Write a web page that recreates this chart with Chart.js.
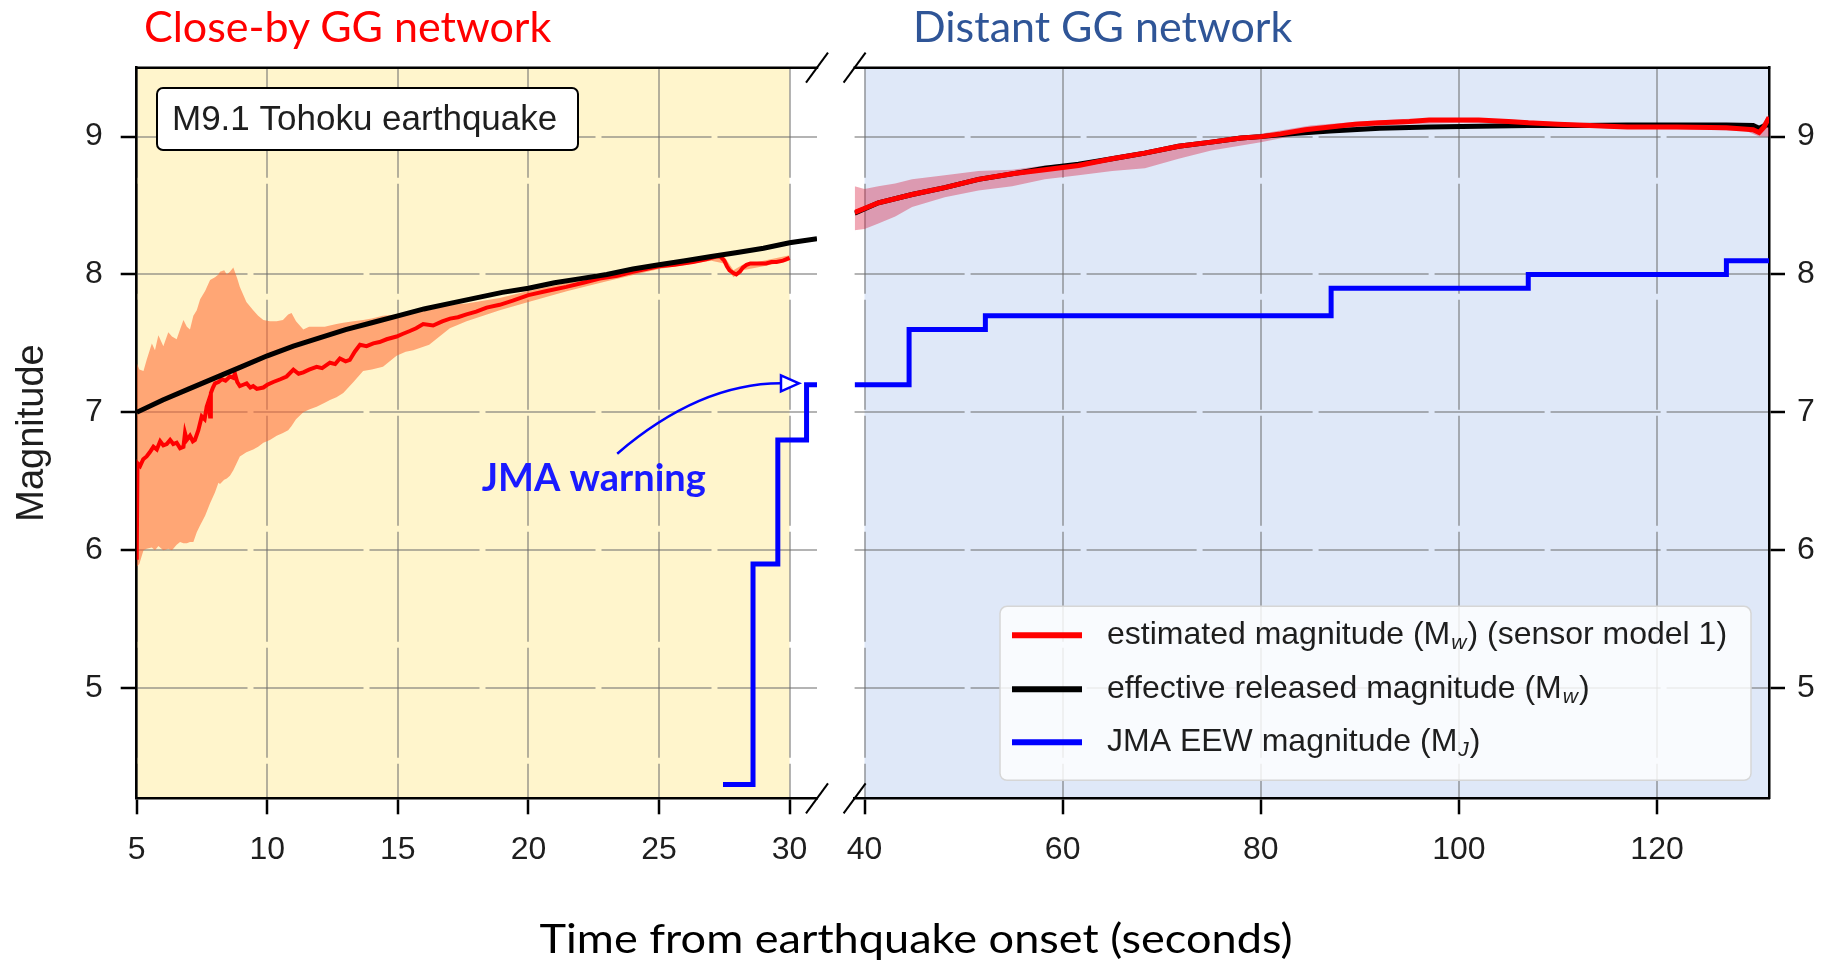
<!DOCTYPE html>
<html>
<head>
<meta charset="utf-8">
<script src="https://cdn.jsdelivr.net/npm/chart.js@4.4.1/dist/chart.umd.min.js"></script>
<style>
  html, body { margin: 0; padding: 0; background: #fff; }
  #page { position: relative; width: 1834px; height: 961px; overflow: hidden; background: #fff; }
  canvas { position: absolute; top: 0; }
  #cvClose { left: 0; }
  #cvFar { left: 820px; }
  .head { position: absolute; font-family: Lato, sans-serif; line-height: 1; white-space: nowrap; }
</style>
</head>
<body>
<div id="page">
  <canvas id="cvClose" width="850" height="961"></canvas>
  <canvas id="cvFar" width="1014" height="961"></canvas>
  <div class="head" style="left:144px; top:4px; font-size:43px; color:#ff0000;">Close-by GG network</div>
  <div class="head" style="left:913px; top:4px; font-size:43px; color:#2f5597;">Distant GG network</div>
  <div class="head" style="left:416px; width:1000px; text-align:center; top:917px; font-size:41px; color:#000; transform:scaleX(1.1); transform-origin:500px 0;">Time from earthquake onset (seconds)</div>
</div>
<script>
// ---- axes ----
const magTicks = [5, 6, 7, 8, 9];
const closeTicks = [5, 10, 15, 20, 25, 30];
const farTicks = [40, 60, 80, 100, 120];
const magRange = [4.2, 9.5];
const closeRange = [5, 31.05];
const farRange = [39, 131.3];

// ---- close-by network (seconds 5-31) ----
const closeEstT = [5.0,5.03,5.13,5.25,5.38,5.5,5.64,5.77,5.9,6.02,
  6.15,6.28,6.4,6.53,6.66,6.79,6.85,6.92,7.04,7.15,
  7.23,7.36,7.49,7.6,7.68,7.75,7.81,7.84,7.92,8.0,
  8.13,8.26,8.4,8.57,8.7,8.76,8.85,8.95,9.08,9.21,
  9.35,9.46,9.6,9.85,10.0,10.23,10.5,10.74,11.0,11.2,
  11.38,11.6,11.89,12.1,12.4,12.6,12.78,13.0,13.16,13.35,
  13.55,13.8,14.06,14.3,14.57,14.95,15.2,15.46,15.7,15.97,
  16.35,16.7,17.0,17.3,17.63,18.0,18.4,18.9,19.4,20.0,
  20.7,21.45,22.1,22.73,23.4,24.0,24.5,25.0,25.6,26.3,
  26.8,27.19,27.35,27.5,27.6,27.7,27.85,27.96,28.1,28.21,
  28.35,28.5,28.8,29.1,29.3,29.5,29.75,30.0];
const closeEstM = [5.93,6.63,6.61,6.66,6.68,6.71,6.75,6.73,6.79,6.76,
  6.77,6.80,6.77,6.78,6.74,6.75,6.85,6.80,6.83,6.79,
  6.80,6.87,6.97,6.95,7.04,7.08,6.97,7.14,7.18,7.21,
  7.22,7.24,7.23,7.26,7.25,7.28,7.22,7.19,7.20,7.21,
  7.18,7.19,7.17,7.18,7.20,7.22,7.24,7.26,7.31,7.28,
  7.29,7.31,7.33,7.32,7.36,7.35,7.39,7.37,7.38,7.44,
  7.49,7.48,7.50,7.51,7.53,7.55,7.57,7.59,7.61,7.64,
  7.63,7.66,7.68,7.69,7.71,7.73,7.76,7.78,7.81,7.85,
  7.88,7.91,7.94,7.97,7.99,8.02,8.04,8.06,8.07,8.09,
  8.11,8.13,8.13,8.10,8.06,8.03,8.01,8.00,8.02,8.05,
  8.07,8.08,8.08,8.08,8.09,8.09,8.10,8.12];

const closeBandT = [5.0,5.1,5.26,5.38,5.58,5.7,5.83,6.02,6.21,6.35,
  6.53,6.66,6.79,6.92,7.04,7.17,7.3,7.43,7.62,7.81,
  8.0,8.13,8.19,8.35,8.45,8.57,8.7,8.85,8.95,9.2,
  9.46,9.65,9.85,10.1,10.36,10.6,10.8,10.93,11.1,11.38,
  11.6,11.89,12.2,12.4,12.65,12.91,13.3,13.67,14.0,14.43,
  14.95,15.3,15.59,16.2,16.99,17.63,18.9,20.0,21.5,23.0,
  25.0,27.0,27.5,27.85,28.2,29.0,30.0];
const closeBandHi = [7.36,7.31,7.30,7.38,7.50,7.45,7.56,7.48,7.58,7.55,
  7.53,7.60,7.67,7.62,7.60,7.70,7.74,7.82,7.88,7.96,
  7.98,8.00,8.02,8.03,8.00,8.02,8.05,7.97,7.91,7.80,
  7.74,7.70,7.67,7.66,7.66,7.67,7.71,7.72,7.66,7.60,
  7.62,7.62,7.62,7.63,7.64,7.65,7.66,7.67,7.68,7.70,
  7.71,7.72,7.73,7.74,7.78,7.79,7.83,7.88,7.94,7.99,
  8.08,8.14,8.13,8.03,8.07,8.10,8.14];
const closeBandLo = [5.88,5.90,6.00,6.01,6.02,6.00,6.03,6.00,6.01,6.00,
  6.04,6.06,6.05,6.05,6.06,6.06,6.13,6.18,6.25,6.34,
  6.42,6.49,6.48,6.51,6.52,6.54,6.58,6.64,6.68,6.71,
  6.73,6.75,6.78,6.80,6.83,6.85,6.87,6.90,6.95,7.00,
  7.02,7.04,7.07,7.09,7.11,7.14,7.22,7.30,7.31,7.33,
  7.41,7.44,7.45,7.49,7.61,7.66,7.74,7.80,7.88,7.95,
  8.04,8.10,8.08,7.98,8.03,8.06,8.10];

const closeRelT = [5,6,7,8,9,10,11,12,13,14,15,16,17,18,19,20,21,22,23,24,25,26,27,28,29,30,31.05];
const closeRelM = [7.0,7.09,7.17,7.25,7.33,7.41,7.48,7.54,7.60,7.65,7.70,7.75,7.79,7.83,7.87,7.90,7.94,7.97,8.00,8.04,8.07,8.10,8.13,8.16,8.19,8.23,8.26];

const closeJmaT = [27.45, 28.6, 29.55, 30.65, 31.05];
const closeJmaM = [4.3, 5.9, 6.8, 7.2, 7.2];

// ---- distant network (seconds 39-131) ----
const farEstT = [39,41.4,44.8,48.1,51.5,54.9,58.2,61.6,65,68.3,
  71.7,75,78,80,82,84.5,87,89.5,92,95,
  97,100,102,105,107,110,112,115,117,122,
  127,129.7,130.3,130.8,131.3];
const farEstM = [8.45,8.52,8.58,8.63,8.69,8.73,8.76,8.79,8.84,8.88,
  8.93,8.96,8.99,9.0,9.02,9.05,9.07,9.09,9.10,9.11,
  9.12,9.12,9.12,9.11,9.10,9.09,9.085,9.075,9.07,9.07,
  9.065,9.05,9.03,9.07,9.14];

const farBandT = [39,40,41.4,43.1,44.8,48.1,51.5,54.9,58.2,61.6,
  65,68.3,71.7,75,80,85,90,95,100,105,
  110,115,120,125,129,130.3,131.3];
const farBandHi = [8.64,8.62,8.64,8.66,8.69,8.72,8.75,8.76,8.79,8.81,
  8.86,8.90,8.94,8.97,9.02,9.08,9.11,9.13,9.13,9.125,
  9.105,9.09,9.085,9.085,9.08,9.06,9.16];
const farBandLo = [8.32,8.33,8.37,8.42,8.49,8.56,8.61,8.64,8.69,8.72,
  8.75,8.77,8.84,8.90,8.96,9.03,9.07,9.09,9.10,9.095,
  9.075,9.06,9.055,9.05,9.04,9.0,9.0];

const farRelT = [39,41.4,44.8,48.1,51.5,54.9,58.2,61.6,65,68.3,
  71.7,75,78,80,83,87,92,97,102,107,
  112,117,122,127,129.7,130.3,131.0,131.3];
const farRelM = [8.445,8.52,8.58,8.63,8.69,8.73,8.77,8.80,8.84,8.88,
  8.93,8.96,8.99,9.0,9.02,9.04,9.06,9.07,9.075,9.08,
  9.08,9.085,9.085,9.085,9.08,9.06,9.085,9.085];

const farJmaT = [39, 44.5, 52.2, 87.1, 107.0, 127.0, 131.3];
const farJmaM = [7.2, 7.6, 7.7, 7.9, 8.0, 8.1, 8.1];

// ---- labels ----
const seriesLabels = {
  est: 'estimated magnitude (Mw) (sensor model 1)',
  rel: 'effective released magnitude (Mw)',
  jma: 'JMA EEW magnitude (MJ)'
};
const legendRows = [
  { key: 'est', parts: [{ t: 'estimated magnitude (M' }, { t: 'w', sub: true }, { t: ') (sensor model 1)' }] },
  { key: 'rel', parts: [{ t: 'effective released magnitude (M' }, { t: 'w', sub: true }, { t: ')' }] },
  { key: 'jma', parts: [{ t: 'JMA EEW magnitude (M' }, { t: 'J', sub: true }, { t: ')' }] }
];
const eventLabel = 'M9.1 Tohoku earthquake';
const warningLabel = 'JMA warning';

// ---- styling ----
const FONT = '"Liberation Sans", Arial, sans-serif';
const TEXT = '#1e1e1e';
const RED = '#ff0000', BLACK = '#000000', BLUE = '#0000ff';
const GRID = 'rgba(105,105,105,0.5)';

const pts = (xs, ys) => xs.map((x, i) => ({ x, y: ys[i] }));

function axisCommon(ticksArr, pad) {
  return {
    type: 'linear',
    afterBuildTicks: s => { s.ticks = ticksArr.map(v => ({ value: v })); },
    ticks: { font: { family: FONT, size: 32 }, color: TEXT, autoSkip: false, maxRotation: 0, minRotation: 0, padding: pad },
    grid: { color: GRID, lineWidth: 2, tickLength: 16, tickColor: '#000', tickWidth: 2.5 },
    border: { display: true, color: '#000', width: 2.5, dash: [110, 6] }
  };
}

// shaded panel background, top spine and axis-break marks
const panelPlugin = {
  id: 'panel',
  beforeDraw(chart, args, o) {
    const { ctx, chartArea: a, scales: { x } } = chart;
    const x0 = x.getPixelForValue(o.from), x1 = x.getPixelForValue(o.to);
    ctx.save();
    ctx.fillStyle = o.color;
    ctx.fillRect(x0, a.top, x1 - x0, a.bottom - a.top);
    ctx.restore();
  },
  afterDraw(chart, args, o) {
    const { ctx, chartArea: a } = chart;
    ctx.save();
    ctx.strokeStyle = '#000';
    ctx.lineWidth = 2.5;
    ctx.beginPath();
    ctx.moveTo(a.left - 1.2, a.top);
    ctx.lineTo(a.right + 1.2, a.top);
    ctx.stroke();
    const bx = o.breakSide === 'right' ? a.right : a.left;
    ctx.lineWidth = 2;
    [a.top, a.bottom].forEach(by => {
      ctx.beginPath();
      ctx.moveTo(bx - 11, by + 15);
      ctx.lineTo(bx + 11, by - 15);
      ctx.stroke();
    });
    ctx.restore();
  }
};

// event box, warning label and arrow in the close-by panel
const notePlugin = {
  id: 'notes',
  afterDatasetsDraw(chart) {
    const { ctx, chartArea: a, scales: { x, y } } = chart;
    ctx.save();
    const bx = a.left + 20.3, by = a.top + 20.3, bw = 421, bh = 62;
    ctx.beginPath();
    ctx.roundRect(bx, by, bw, bh, 6);
    ctx.fillStyle = '#ffffff';
    ctx.fill();
    ctx.lineWidth = 2;
    ctx.strokeStyle = '#000';
    ctx.stroke();
    ctx.fillStyle = TEXT;
    ctx.font = `35px ${FONT}`;
    ctx.textBaseline = 'middle';
    ctx.textAlign = 'left';
    ctx.fillText(eventLabel, bx + 15, by + bh / 2 + 1);

    ctx.fillStyle = '#1a1aff';
    ctx.font = 'bold 38px Lato, sans-serif';
    ctx.textBaseline = 'alphabetic';
    ctx.fillText(warningLabel, x.getPixelForValue(18.21), y.getPixelForValue(6.43));

    const sx = x.getPixelForValue(23.4), sy = y.getPixelForValue(6.70);
    const cx = x.getPixelForValue(26.55), cy = y.getPixelForValue(7.21);
    const tx = x.getPixelForValue(30.36), ty = y.getPixelForValue(7.21);
    const headLen = 18, headHalf = 8;
    ctx.strokeStyle = BLUE;
    ctx.lineWidth = 2.5;
    ctx.beginPath();
    ctx.moveTo(sx, sy);
    ctx.quadraticCurveTo(cx, cy, tx - headLen, ty);
    ctx.stroke();
    ctx.beginPath();
    ctx.moveTo(tx, ty);
    ctx.lineTo(tx - headLen, ty - headHalf);
    ctx.lineTo(tx - headLen, ty + headHalf);
    ctx.closePath();
    ctx.fillStyle = '#ffffff';
    ctx.fill();
    ctx.stroke();
    ctx.restore();
  }
};

// legend with subscripts in the distant panel
function drawParts(ctx, parts, x, y, size) {
  let cx = x;
  parts.forEach(p => {
    if (p.sub) {
      ctx.font = `italic ${Math.round(size * 0.66)}px ${FONT}`;
      ctx.fillText(p.t, cx + 1, y + size * 0.26);
      cx += ctx.measureText(p.t).width + 2;
    } else {
      ctx.font = `${size}px ${FONT}`;
      ctx.fillText(p.t, cx, y);
      cx += ctx.measureText(p.t).width;
    }
  });
}
const legendPlugin = {
  id: 'magLegend',
  afterDatasetsDraw(chart) {
    const { ctx, chartArea: a } = chart;
    const w = 751, h = 174;
    const lx = a.right - 18 - w, ly = a.bottom - 18 - h;
    ctx.save();
    ctx.beginPath();
    ctx.roundRect(lx, ly, w, h, 7);
    ctx.fillStyle = 'rgba(255,255,255,0.82)';
    ctx.fill();
    ctx.lineWidth = 1.5;
    ctx.strokeStyle = '#d6d6d6';
    ctx.stroke();
    const rowY = [29, 83, 136];
    legendRows.forEach((row, i) => {
      const ds = chart.data.datasets.find(d => d.label === seriesLabels[row.key]);
      const yy = ly + rowY[i];
      ctx.strokeStyle = ds.borderColor;
      ctx.lineWidth = 6;
      ctx.beginPath();
      ctx.moveTo(lx + 12, yy);
      ctx.lineTo(lx + 82, yy);
      ctx.stroke();
      ctx.fillStyle = TEXT;
      ctx.textBaseline = 'middle';
      ctx.textAlign = 'left';
      drawParts(ctx, row.parts, lx + 107, yy, 32);
    });
    ctx.restore();
  }
};

const baseOptions = {
  responsive: false,
  animation: false,
  devicePixelRatio: 1,
  events: [],
  elements: { point: { radius: 0 }, line: { tension: 0 } }
};

// close-by panel (first dataset in the list is painted on top)
new Chart(document.getElementById('cvClose'), {
  type: 'line',
  data: {
    datasets: [
      { label: seriesLabels.jma, data: pts(closeJmaT, closeJmaM), borderColor: BLUE, borderWidth: 5, stepped: 'before', fill: false, borderJoinStyle: 'miter' },
      { label: seriesLabels.rel, data: pts(closeRelT, closeRelM), borderColor: BLACK, borderWidth: 5, fill: false },
      { label: seriesLabels.est, data: pts(closeEstT, closeEstM), borderColor: RED, borderWidth: 4, fill: false },
      { label: 'band upper', data: pts(closeBandT, closeBandHi), borderWidth: 0, fill: '+1', backgroundColor: 'rgba(255,100,45,0.55)' },
      { label: 'band lower', data: pts(closeBandT, closeBandLo), borderWidth: 0, fill: false }
    ]
  },
  options: Object.assign({}, baseOptions, {
    layout: { autoPadding: false, padding: { left: 0, top: 67.7, right: 33, bottom: 0 } },
    scales: {
      x: Object.assign(axisCommon(closeTicks, 17), {
        min: closeRange[0], max: closeRange[1], position: 'bottom',
        afterFit: s => { s.height = 162.7; }
      }),
      y: Object.assign(axisCommon(magTicks, 18), {
        min: magRange[0], max: magRange[1], position: 'left',
        afterFit: s => { s.width = 136.7; },
        title: { display: true, text: 'Magnitude', font: { family: FONT, size: 38 }, color: TEXT, padding: { top: 10, bottom: 0 } }
      })
    },
    plugins: {
      legend: { display: false }, tooltip: { enabled: false },
      panel: { from: 5, to: 30, color: '#fff5cc', breakSide: 'right' }
    }
  }),
  plugins: [panelPlugin, notePlugin]
});

// distant panel (first dataset in the list is painted on top)
new Chart(document.getElementById('cvFar'), {
  type: 'line',
  data: {
    datasets: [
      { label: seriesLabels.jma, data: pts(farJmaT, farJmaM), borderColor: BLUE, borderWidth: 5, stepped: 'before', fill: false, borderJoinStyle: 'miter' },
      { label: seriesLabels.est, data: pts(farEstT, farEstM), borderColor: RED, borderWidth: 5, fill: false },
      { label: seriesLabels.rel, data: pts(farRelT, farRelM), borderColor: BLACK, borderWidth: 5, fill: false },
      { label: 'band upper', data: pts(farBandT, farBandHi), borderWidth: 0, fill: '+1', backgroundColor: 'rgba(215,25,60,0.38)' },
      { label: 'band lower', data: pts(farBandT, farBandLo), borderWidth: 0, fill: false }
    ]
  },
  options: Object.assign({}, baseOptions, {
    layout: { autoPadding: false, padding: { left: 34.6, top: 67.7, right: 0, bottom: 0 } },
    scales: {
      x: Object.assign(axisCommon(farTicks, 17), {
        min: farRange[0], max: farRange[1], position: 'bottom',
        afterFit: s => { s.height = 162.7; }
      }),
      y: Object.assign(axisCommon(magTicks, 12), {
        min: magRange[0], max: magRange[1], position: 'right',
        afterFit: s => { s.width = 65; }
      })
    },
    plugins: {
      legend: { display: false }, tooltip: { enabled: false },
      panel: { from: 40, to: 131.3, color: '#dfe8f8', breakSide: 'left' }
    }
  }),
  plugins: [panelPlugin, legendPlugin]
});
</script>
</body>
</html>
